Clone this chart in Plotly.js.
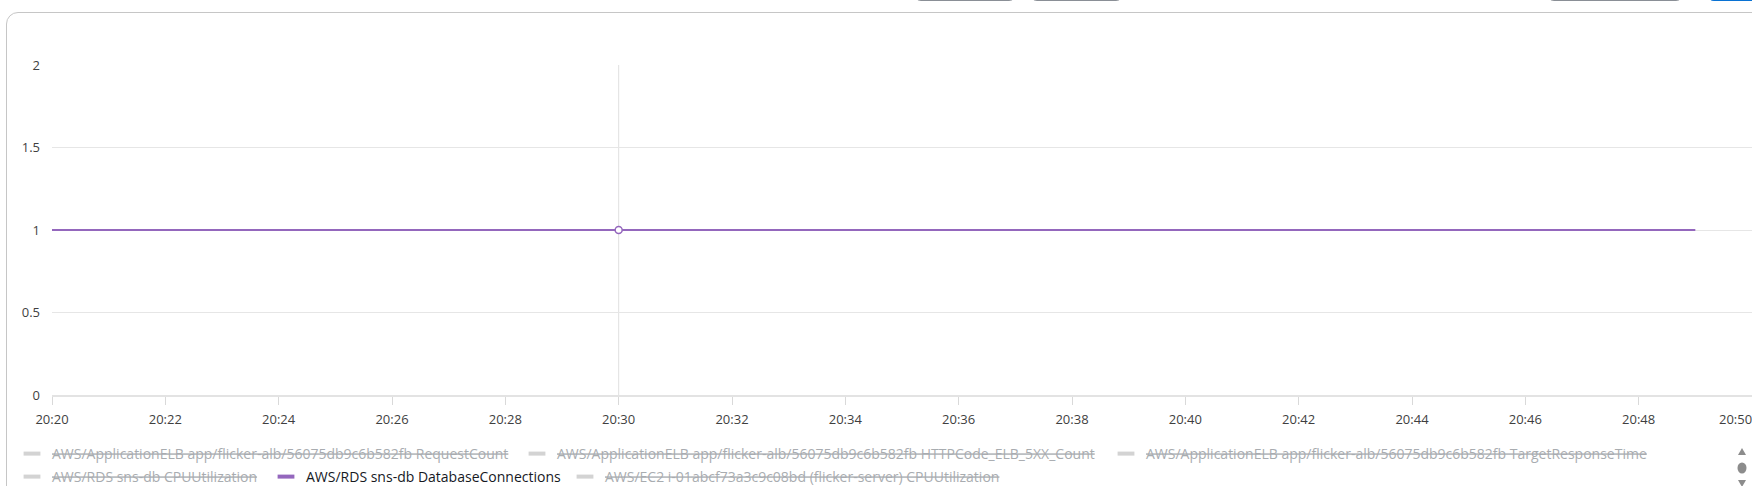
<!DOCTYPE html>
<html>
<head>
<meta charset="utf-8">
<script src="https://cdn.plot.ly/plotly-3.0.1.min.js"></script>
<style>
  html, body { margin:0; padding:0; background:#ffffff; width:1752px; height:486px; overflow:hidden; position:relative; }
  #frame { position:absolute; left:6px; top:12px; width:2000px; height:1000px; border:1px solid #c6c6c6; border-radius:12px; box-sizing:border-box; }
  .btn { position:absolute; top:-15px; height:16px; border:1px solid #8a8f96; border-radius:8px; background:#fff; box-sizing:border-box; }
  .btn.primary { background:#0972d3; border-color:#0972d3; }
  #chart { position:absolute; left:0; top:0; width:1752px; height:486px; }
  #scroller { position:absolute; left:1734px; top:446px; }
</style>
</head>
<body>
<div id="frame"></div>
<div class="btn" style="left:913px;width:104px;"></div>
<div class="btn" style="left:1029px;width:95px;"></div>
<div class="btn" style="left:1546px;width:138px;"></div>
<div class="btn primary" style="left:1706px;width:80px;"></div>
<div id="chart"></div>
<svg id="scroller" width="16" height="40">
  <path d="M8,2 L12,9 L4,9 Z" fill="#8c8c8c"/>
  <ellipse cx="8" cy="22" rx="4.5" ry="5.5" fill="#8c8c8c"/>
  <path d="M4,34 L12,34 L8,41 Z" fill="#8c8c8c"/>
</svg>
<script>
// ---- data ----
const times = [
  '2024-05-01 20:20:00','2024-05-01 20:21:00','2024-05-01 20:22:00','2024-05-01 20:23:00',
  '2024-05-01 20:24:00','2024-05-01 20:25:00','2024-05-01 20:26:00','2024-05-01 20:27:00',
  '2024-05-01 20:28:00','2024-05-01 20:29:00','2024-05-01 20:30:00','2024-05-01 20:31:00',
  '2024-05-01 20:32:00','2024-05-01 20:33:00','2024-05-01 20:34:00','2024-05-01 20:35:00',
  '2024-05-01 20:36:00','2024-05-01 20:37:00','2024-05-01 20:38:00','2024-05-01 20:39:00',
  '2024-05-01 20:40:00','2024-05-01 20:41:00','2024-05-01 20:42:00','2024-05-01 20:43:00',
  '2024-05-01 20:44:00','2024-05-01 20:45:00','2024-05-01 20:46:00','2024-05-01 20:47:00',
  '2024-05-01 20:48:00','2024-05-01 20:49:00'
];
const dbConnections = [
  1, 1, 1, 1, 1, 1, 1, 1, 1, 1,
  1, 1, 1, 1, 1, 1, 1, 1, 1, 1,
  1, 1, 1, 1, 1, 1, 1, 1, 1, 1
];
const hoverTime = '2024-05-01 20:30:00';

const tickTimes = [
  '2024-05-01 20:20:00','2024-05-01 20:22:00','2024-05-01 20:24:00','2024-05-01 20:26:00',
  '2024-05-01 20:28:00','2024-05-01 20:30:00','2024-05-01 20:32:00','2024-05-01 20:34:00',
  '2024-05-01 20:36:00','2024-05-01 20:38:00','2024-05-01 20:40:00','2024-05-01 20:42:00',
  '2024-05-01 20:44:00','2024-05-01 20:46:00','2024-05-01 20:48:00','2024-05-01 20:50:00'
];
const tickLabels = [
  '20:20','20:22','20:24','20:26','20:28','20:30','20:32','20:34',
  '20:36','20:38','20:40','20:42','20:44','20:46','20:48','20:50'
];
const yTicks = [0, 0.5, 1, 1.5, 2];

const seriesNames = [
  'AWS/ApplicationELB app/flicker-alb/56075db9c6b582fb RequestCount',
  'AWS/ApplicationELB app/flicker-alb/56075db9c6b582fb HTTPCode_ELB_5XX_Count',
  'AWS/ApplicationELB app/flicker-alb/56075db9c6b582fb TargetResponseTime',
  'AWS/RDS sns-db CPUUtilization',
  'AWS/RDS sns-db DatabaseConnections',
  'AWS/EC2 i-01abcf73a3c9c08bd (flicker-server) CPUUtilization'
];
const seriesVisible = [false, false, false, false, true, false];
const activeIndex = 4;

// ---- styles ----
const PURPLE = '#9467bd';
const FONT = 'Open Sans, Noto Sans, sans-serif';
const TEXT = '#3f3f3f';

// plot geometry (pixels) to convert legend positions
const L = 52, W = 1700, T = 65, H = 330;
const legendPx = [ // swatch centre x, row centre y
  [32, 454], [537, 454], [1126, 454],
  [32, 477], [286, 477], [585, 477]
];

const traces = [];
traces.push({
  type: 'scatter', mode: 'lines', x: times, y: dbConnections,
  line: { color: PURPLE, width: 2 }, showlegend: false, hoverinfo: 'skip', name: seriesNames[activeIndex]
});
const hi = times.indexOf(hoverTime);
traces.push({
  type: 'scatter', mode: 'markers', x: [times[hi]], y: [dbConnections[hi]],
  marker: { symbol: 'circle', size: 7, color: '#ffffff', line: { color: PURPLE, width: 1.5 } },
  showlegend: false, hoverinfo: 'skip', cliponaxis: false
});

const layoutLegends = {};
seriesNames.forEach((name, i) => {
  const key = i === 0 ? 'legend' : 'legend' + (i + 1);
  const on = seriesVisible[i];
  traces.push({
    // legend entry only: one point with no value, so nothing is drawn in the plot
    type: 'scatter', mode: 'markers', x: [times[0]], y: [null], name: name,
    legend: key, showlegend: true, hoverinfo: 'skip',
    visible: on ? true : 'legendonly',
    marker: { symbol: 'line-ew', size: 12, color: on ? PURPLE : '#a9a9a9',
              line: { color: on ? PURPLE : '#a9a9a9', width: 4 } }
  });
  const [cx, cy] = legendPx[i];
  layoutLegends[key] = {
    x: (cx - 20 - L) / W, xanchor: 'left',
    y: (T + H - cy) / H, yanchor: 'middle',
    orientation: 'h', bgcolor: 'rgba(0,0,0,0)', borderwidth: 0,
    font: { family: FONT, size: 14, color: on ? '#16191f' : '#545b64',
            lineposition: on ? 'none' : 'through' },
    itemclick: false, itemdoubleclick: false
  };
});

const layout = Object.assign({
  width: 1752, height: 486,
  margin: { l: L, r: 0, t: T, b: 486 - T - H, autoexpand: false },
  paper_bgcolor: 'rgba(0,0,0,0)', plot_bgcolor: 'rgba(0,0,0,0)',
  font: { family: FONT, size: 13, color: TEXT },
  showlegend: true,
  hovermode: false,
  xaxis: {
    type: 'date', range: [tickTimes[0], tickTimes[tickTimes.length - 1]],
    tickmode: 'array', tickvals: tickTimes.slice(0, -1), ticktext: tickLabels.slice(0, -1),
    ticks: 'outside', ticklen: 8, tickwidth: 1, tickcolor: '#d9d9d9',
    ticklabelstandoff: 3,
    showgrid: false, zeroline: false,
    showline: true, linecolor: '#e3e3e3', linewidth: 2,
    tickfont: { family: FONT, size: 13, color: TEXT },
    fixedrange: true
  },
  yaxis: {
    range: [yTicks[0], yTicks[yTicks.length - 1]],
    tickmode: 'array', tickvals: yTicks, ticktext: yTicks.map(String),
    ticks: '', showgrid: true, gridcolor: '#e6e6e6', gridwidth: 1,
    zeroline: false, showline: false, ticklabelstandoff: 11,
    tickfont: { family: FONT, size: 13, color: TEXT },
    fixedrange: true
  },
  shapes: [{
    type: 'line', xref: 'x', yref: 'paper', x0: hoverTime, x1: hoverTime, y0: 0, y1: 1,
    line: { color: '#e0e0e0', width: 1 }, layer: 'below'
  }],
  annotations: [{
    xref: 'x', yref: 'paper', x: tickTimes[tickTimes.length - 1], y: 0,
    xanchor: 'right', yanchor: 'top', xshift: 2, yshift: -13,
    text: tickLabels[tickLabels.length - 1], showarrow: false,
    font: { family: FONT, size: 13, color: TEXT }
  }]
}, layoutLegends);

Plotly.newPlot('chart', traces, layout, { staticPlot: true, displayModeBar: false });
</script>
</body>
</html>
